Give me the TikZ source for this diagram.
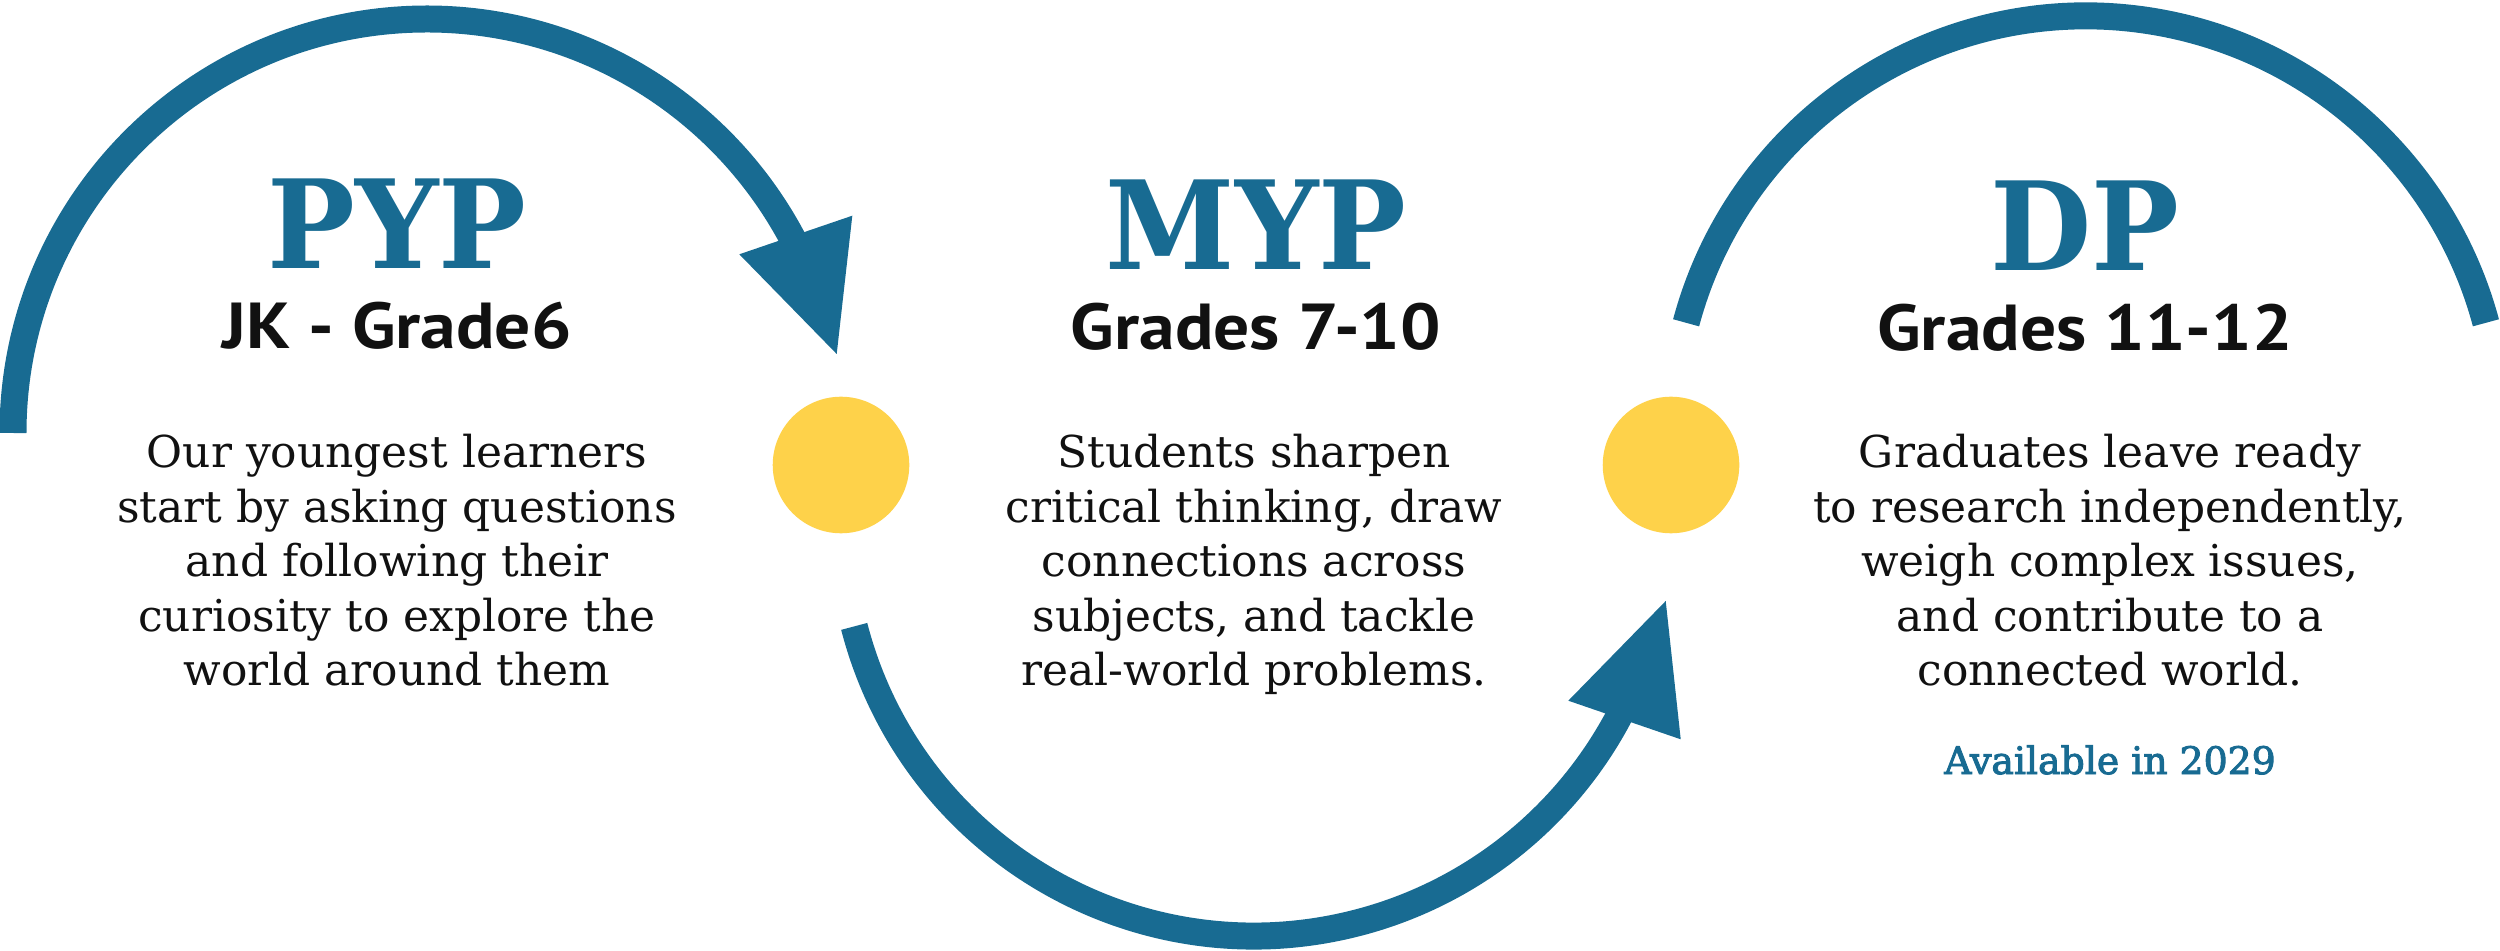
\documentclass[tikz,border=0pt]{standalone}
\usepackage{fontspec}
\newfontfamily\titlefont[FakeStretch=0.95]{DejaVu Serif}
\newfontfamily\subfont[FakeStretch=1.1]{PT Sans}
\newfontfamily\bodyfont{DejaVu Serif}
\newfontfamily\availfont[FakeBold=2.5]{DejaVu Serif}
\definecolor{ibblue}{HTML}{186B92}
\definecolor{ibyellow}{HTML}{FED24A}
\definecolor{ibtext}{HTML}{111111}
\begin{document}
\begin{tikzpicture}[x=0.02cm,y=0.02cm,
  arcline/.style={draw=ibblue, line width=0.54cm, line cap=butt},
  headtip/.style={fill=ibblue, draw=none},
  dot/.style={circle, fill=ibyellow, draw=none, minimum size=2.732cm, inner sep=0pt},
  titletext/.style={anchor=base, inner sep=0pt, text=ibblue, font=\titlefont\bfseries\fontsize{70}{70}\selectfont},
  subtext/.style={anchor=base, inner sep=0pt, text=ibtext, font=\subfont\bfseries\fontsize{37}{40}\selectfont},
  bodytext/.style={anchor=base, inner sep=0pt, text=ibtext, font=\bodyfont\fontsize{25}{31}\selectfont},
  availtext/.style={anchor=base, inner sep=0pt, text=ibblue, font=\availfont\fontsize{21.5}{26}\selectfont}
]
\useasboundingbox (0,0) rectangle (2500,950);

% yellow dots
\node[dot] (dot1) at (841,485) {};
\node[dot] (dot2) at (1671,485) {};

% left arc (PYP) with arrowhead
\coordinate (a1s) at (13,517);
\coordinate (h1a) at (739.3,695.7);
\coordinate (h1b) at (852.3,734.3);
\coordinate (h1t) at (836.7,596);
\draw[arcline] (a1s) arc[start angle=180, end angle=25, radius=414];
\fill[headtip] (h1a) -- (h1b) -- (h1t) -- cycle;

% bottom arc (MYP) with arrowhead
\coordinate (a2s) at (854.2,323.6);
\coordinate (h2a) at (1568.3,249.3);
\coordinate (h2b) at (1680.7,210.7);
\coordinate (h2t) at (1665.7,349);
\draw[arcline] (a2s) arc[start angle=194.5, end angle=335, radius=413];
\fill[headtip] (h2a) -- (h2b) -- (h2t) -- cycle;

% right arc (DP)
\coordinate (a3s) at (1686.1,627.2);
\draw[arcline] (a3s) arc[start angle=165, end angle=15, radius=414];

% PYP column
\node[titletext] (pyp) at (397,681) {PYP};
\node[subtext] (pypgr) at (397,601) {JK - Grade6};
\node[bodytext] (pypbody) at (397,482) {\begin{tabular}[t]{@{}c@{}}Our youngest learners\\ start by asking questions\\ and following their\\ curiosity to explore the\\ world around them\end{tabular}};

% MYP column
\node[titletext] (myp) at (1256,680) {MYP};
\node[subtext] (mypgr) at (1256,600) {Grades 7-10};
\node[bodytext] (mypbody) at (1254,482) {\begin{tabular}[t]{@{}c@{}}Students sharpen\\ critical thinking, draw\\ connections across\\ subjects, and tackle\\ real-world problems.\end{tabular}};

% DP column
\node[titletext] (dp) at (2085,679) {DP};
\node[subtext] (dpgr) at (2085,599) {Grades 11-12};
\node[bodytext] (dpbody) at (2110,482) {\begin{tabular}[t]{@{}c@{}}Graduates leave ready\\ to research independently,\\ weigh complex issues,\\ and contribute to a\\ connected world.\end{tabular}};
\node[availtext] (avail) at (2110,176) {Available in 2029};
\end{tikzpicture}
\end{document}
